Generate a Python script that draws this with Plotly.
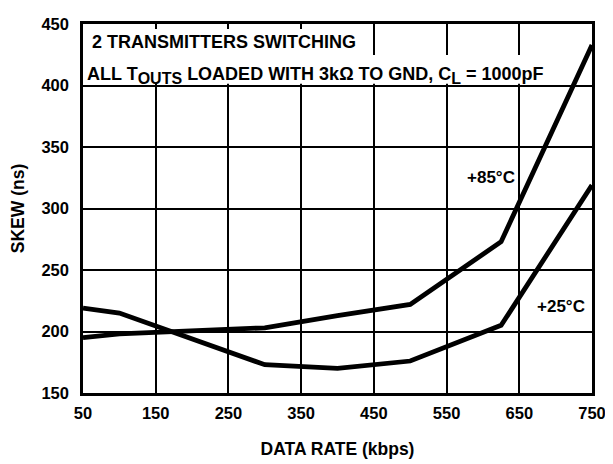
import plotly.graph_objects as go

# Skew vs data rate
rate_25c = [50, 100, 300, 400, 500, 625, 750]
skew_25c = [219, 215, 173, 170, 176, 205, 319]

rate_85c = [50, 100, 300, 400, 500, 625, 750]
skew_85c = [195, 198, 203, 213, 222, 273, 433]

x_ticks = [50, 150, 250, 350, 450, 550, 650, 750]
y_ticks = [150, 200, 250, 300, 350, 400, 450]

font_name = "Liberation Sans, Arial, sans-serif"

fig = go.Figure()
fig.add_trace(go.Scatter(x=rate_25c, y=skew_25c, mode="lines",
                         line=dict(color="black", width=4.8), name="+25°C"))
fig.add_trace(go.Scatter(x=rate_85c, y=skew_85c, mode="lines",
                         line=dict(color="black", width=4.8), name="+85°C"))

# white boxes behind the condition text (they hide the gridlines)
fig.add_shape(type="rect", xref="x", yref="y", x0=51, x1=436, y0=424, y1=446,
              fillcolor="white", line=dict(width=0), layer="above")
fig.add_shape(type="rect", xref="x", yref="y", x0=51, x1=698, y0=401.5, y1=424.7,
              fillcolor="white", line=dict(width=0), layer="above")

sub = '<sub><span style="font-size:16px">%s</span></sub>'
fig.add_annotation(x=0.014, y=0.950, xref="paper", yref="paper",
                   xanchor="left", yanchor="middle", showarrow=False,
                   text="<b>2 TRANSMITTERS SWITCHING</b>",
                   font=dict(family=font_name, size=18, color="black"))
fig.add_annotation(x=0.003, y=0.860, xref="paper", yref="paper",
                   xanchor="left", yanchor="middle", showarrow=False,
                   text="<b>ALL T" + sub % "OUTS" + " LOADED WITH 3kΩ TO GND, C"
                        + sub % "L" + " = 1000pF</b>",
                   font=dict(family=font_name, size=18, color="black"))

fig.add_annotation(x=611, y=325, xref="x", yref="y", showarrow=False,
                   text="<b>+85°C</b>",
                   font=dict(family=font_name, size=17, color="black"))
fig.add_annotation(x=707, y=220, xref="x", yref="y", showarrow=False,
                   text="<b>+25°C</b>",
                   font=dict(family=font_name, size=17, color="black"))

axis_common = dict(showgrid=True, gridcolor="black", gridwidth=2,
                   showline=True, linecolor="black", linewidth=2.5, mirror=True,
                   ticks="", zeroline=False,
                   tickfont=dict(family=font_name, size=16.5, color="black"))

fig.update_xaxes(range=[50, 750], tickvals=x_ticks,
                 ticktext=["<b>%d</b>" % v for v in x_ticks],
                 ticklabelstandoff=3,
                 title=dict(text="<b>DATA RATE (kbps)</b>", standoff=23,
                            font=dict(family=font_name, size=17.5, color="black")),
                 **axis_common)
fig.update_yaxes(range=[150, 450], tickvals=y_ticks,
                 ticktext=["<b>%d</b>" % v for v in y_ticks],
                 ticklabelstandoff=8,
                 title=dict(text="<b>SKEW (ns)</b>", standoff=14,
                            font=dict(family=font_name, size=17.5, color="black")),
                 **axis_common)

# the page body adds an 8px margin, so the figure is 8px smaller each way
fig.update_layout(width=605, height=456, showlegend=False,
                  margin=dict(l=67, r=17, t=7, b=70),
                  plot_bgcolor="white", paper_bgcolor="white",
                  font=dict(family=font_name, color="black"))

fig.write_html("out.html")
